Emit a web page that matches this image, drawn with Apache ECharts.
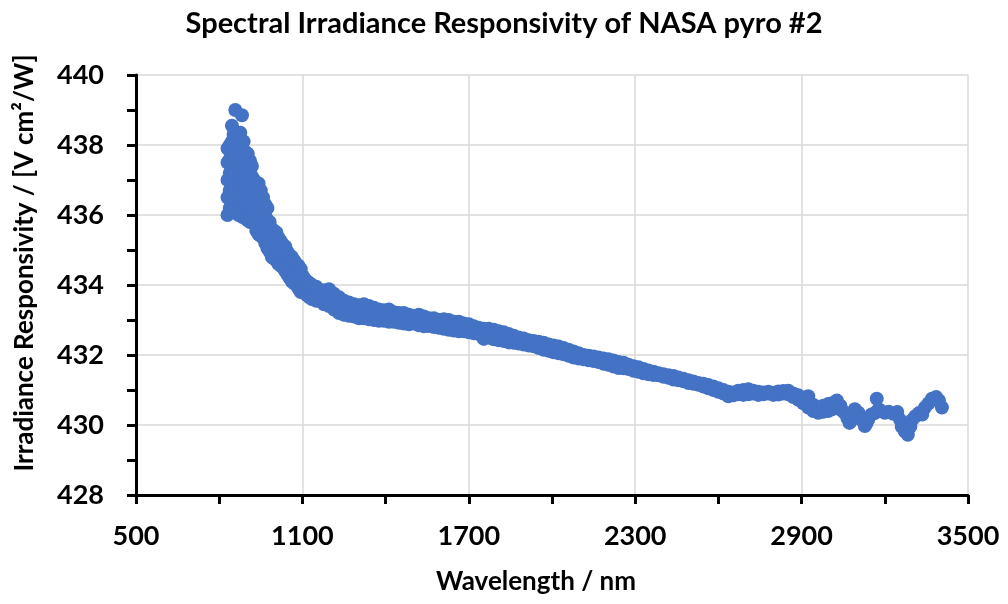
<!DOCTYPE html>
<html>
<head>
<meta charset="utf-8">
<script src="https://cdn.jsdelivr.net/npm/echarts@6/dist/echarts.min.js"></script>
<style>
  html, body { margin: 0; padding: 0; background: #fff; }
  #chart { width: 1008px; height: 604px; }
</style>
</head>
<body>
<div id="chart"></div>
<script>
// wavelength (nm) followed by the responsivities read at that wavelength
const steepRows = [
  [830, 436.0, 436.5, 437.0, 437.5, 437.9],
  [838, 436.2, 436.7, 437.2, 437.6, 438.0],
  [846, 436.1, 436.6, 437.1, 437.6, 438.1, 438.55],
  [852, 436.3, 436.8, 437.3, 437.8, 438.3],
  [858, 436.2, 436.7, 437.2, 437.7, 439.0],
  [864, 436.1, 436.6, 437.1, 437.5, 437.9],
  [870, 436.0, 436.5, 437.0, 437.5, 437.8],
  [876, 436.1, 436.6, 437.1, 437.6, 438.35],
  [882, 435.95, 436.5, 437.0, 437.5, 438.85],
  [888, 436.0, 436.5, 437.0, 437.5, 438.1],
  [895, 435.9, 436.4, 436.9, 437.4, 437.8],
  [903, 435.85, 436.3, 436.8, 437.3, 437.75],
  [911, 435.8, 436.25, 436.7, 437.2, 437.55],
  [918, 435.8, 436.2, 436.65, 437.1, 437.4],
  [926, 435.75, 436.15, 436.6, 437.0],
  [934, 435.55, 436.0, 436.4, 436.9],
  [942, 435.45, 435.9, 436.3, 436.9],
  [950, 435.4, 435.8, 436.2, 436.7],
  [958, 435.35, 435.75, 436.1, 436.5],
  [966, 435.2, 435.6, 436.0, 436.3],
  [974, 435.05, 435.45, 435.85, 436.2],
  [982, 434.95, 435.35, 435.8],
  [990, 434.8, 435.2, 435.6],
  [998, 434.75, 435.1, 435.55],
  [1006, 434.7, 435.05, 435.5],
  [1014, 434.6, 434.95, 435.35],
  [1022, 434.55, 434.9, 435.25],
  [1030, 434.5, 434.8, 435.15],
  [1038, 434.4, 434.75, 435.1],
  [1046, 434.3, 434.65, 434.95],
  [1054, 434.2, 434.5, 434.85],
  [1062, 434.1, 434.45, 434.8],
  [1070, 434.05, 434.35, 434.7],
  [1078, 434.0, 434.3, 434.6],
  [1086, 433.9, 434.2, 434.55],
  [1094, 433.8, 434.1, 434.45],
  [1102, 433.8, 434.0, 434.25],
  [1110, 433.75, 433.95, 434.15],
  [1118, 433.7, 433.9, 434.1],
  [1126, 433.65, 433.85, 434.05],
  [1134, 433.6, 433.8, 434.0],
  [1142, 433.6, 433.75, 433.95],
  [1150, 433.55, 433.7, 433.95]
];

const kneeRows = [
  [1160, 433.55, 433.7, 433.85], [1178, 433.45, 433.65, 433.85], [1196, 433.4, 433.6, 433.88],
  [1214, 433.3, 433.5, 433.75], [1232, 433.2, 433.45, 433.65], [1250, 433.15, 433.35, 433.55],
  [1268, 433.12, 433.3, 433.5], [1286, 433.1, 433.28, 433.45], [1304, 433.05, 433.25, 433.42],
  [1322, 433.05, 433.25, 433.45], [1340, 433.02, 433.2, 433.4], [1358, 433.0, 433.35],
  [1376, 432.98, 433.3], [1394, 432.98, 433.28], [1412, 432.95, 433.3],
  [1430, 432.95, 433.22], [1448, 432.92, 433.2], [1466, 432.9, 433.2],
  [1484, 432.88, 433.15], [1502, 432.9, 433.12], [1520, 432.85, 433.15],
  [1538, 432.82, 433.1], [1556, 432.83, 433.05], [1574, 432.8, 433.05],
  [1592, 432.78, 433.0], [1610, 432.75, 433.02], [1628, 432.72, 433.0],
  [1646, 432.7, 432.95], [1664, 432.68, 432.95], [1682, 432.68, 432.9],
  [1700, 432.65, 432.88], [1718, 432.62, 432.82], [1736, 432.6, 432.78]
];

const midRows = [
  [1754, 432.46, 432.75], [1772, 432.5, 432.75], [1790, 432.45, 432.72],
  [1808, 432.42, 432.68], [1826, 432.4, 432.65], [1844, 432.36, 432.6],
  [1862, 432.35, 432.55], [1880, 432.33, 432.5], [1898, 432.3, 432.47],
  [1916, 432.27, 432.42], [1934, 432.25, 432.4], [1952, 432.2, 432.38],
  [1970, 432.15, 432.35], [1988, 432.12, 432.3], [2006, 432.08, 432.27],
  [2024, 432.05, 432.24], [2042, 432.02, 432.2], [2060, 431.98, 432.15],
  [2078, 431.93, 432.1], [2096, 431.9, 432.05], [2114, 431.88, 432.0],
  [2132, 431.85, 431.98], [2150, 431.83, 431.96], [2168, 431.8, 431.93],
  [2186, 431.75, 431.9], [2204, 431.72, 431.88], [2222, 431.67, 431.84],
  [2240, 431.63, 431.8], [2258, 431.62, 431.78], [2276, 431.6, 431.72],
  [2294, 431.55, 431.68], [2312, 431.52, 431.65], [2330, 431.48, 431.6],
  [2348, 431.45, 431.56], [2366, 431.43, 431.52], [2384, 431.42, 431.48],
  [2402, 431.38, 431.45], [2420, 431.35, 431.42]
];

const flatRows = [
  [2438, 431.3, 431.4], [2456, 431.28, 431.36], [2474, 431.25, 431.32],
  [2492, 431.2, 431.28], [2510, 431.18, 431.24], [2528, 431.15, 431.2],
  [2546, 431.1, 431.18], [2564, 431.05, 431.14], [2582, 431.0, 431.1],
  [2600, 430.95, 431.05], [2618, 430.9, 431.0], [2636, 430.82, 430.95],
  [2654, 430.85, 430.93], [2672, 430.88, 430.98], [2690, 430.86, 431.0],
  [2708, 430.88, 431.02], [2726, 430.9, 430.98], [2744, 430.86, 430.95],
  [2762, 430.88, 430.93], [2780, 430.9, 430.95], [2798, 430.86, 430.92],
  [2816, 430.87, 430.96], [2834, 430.9, 430.97], [2852, 430.88, 430.98],
  [2870, 430.8, 430.9], [2888, 430.72, 430.85], [2906, 430.62, 430.75],
  [2924, 430.5, 430.82], [2942, 430.4, 430.58], [2960, 430.35, 430.5],
  [2978, 430.38, 430.55], [2996, 430.4, 430.6]
];

const tailRows = [
  [3010, 430.45, 430.62], [3020, 430.55], [3027, 430.7], [3040, 430.55, 430.45],
  [3048, 430.4], [3055, 430.35], [3065, 430.2], [3073, 430.06], [3080, 430.2],
  [3085, 430.3], [3092, 430.45], [3105, 430.35], [3115, 430.15], [3128, 429.97],
  [3134, 430.05], [3140, 430.15], [3152, 430.3], [3164, 430.34], [3171, 430.75],
  [3178, 430.45], [3185, 430.4], [3200, 430.35], [3214, 430.38], [3230, 430.32],
  [3245, 430.37], [3255, 430.15], [3261, 429.95], [3272, 429.82],
  [3283, 429.72], [3292, 429.95], [3298, 430.14], [3310, 430.25],
  [3323, 430.34], [3335, 430.3], [3345, 430.5], [3358, 430.62],
  [3370, 430.75], [3385, 430.8], [3395, 430.7], [3406, 430.5]
];

const xTicks = [500, 3500, 600];
const yTicks = [428, 440, 2];

const toPoints = rows => rows.flatMap(([w, ...vs]) => vs.map(v => [w, v]));
const points = [steepRows, kneeRows, midRows, flatRows, tailRows].flatMap(toPoints);

const font = 'Lato, "Open Sans", sans-serif';
const chart = echarts.init(document.getElementById('chart'));

const axisCommon = {
  axisLine: { lineStyle: { color: '#000', width: 3 } },
  axisTick: { show: true, inside: false, length: 9, lineStyle: { color: '#000', width: 3 } },
  minorTick: { show: true, splitNumber: 2, length: 9, lineStyle: { color: '#000', width: 3 } },
  splitLine: { show: true, lineStyle: { color: '#d9d9d9', width: 1.5 } },
  axisLabel: { color: '#000', fontFamily: font, fontWeight: 'bold', fontSize: 27, formatter: v => String(v) },
  nameTextStyle: { color: '#000', fontFamily: font, fontWeight: 'bold', fontSize: 26 }
};

chart.setOption({
  animation: false,
  title: {
    text: 'Spectral Irradiance Responsivity of NASA pyro #2',
    left: 'center',
    top: 4,
    textStyle: { color: '#000', fontFamily: font, fontWeight: 'bold', fontSize: 29 }
  },
  grid: { left: 136, right: 40, top: 75, bottom: 109 },
  xAxis: Object.assign({}, axisCommon, {
    type: 'value',
    min: xTicks[0], max: xTicks[1], interval: xTicks[2],
    name: 'Wavelength / nm',
    nameLocation: 'middle',
    nameGap: 74,
    nameTextStyle: Object.assign({}, axisCommon.nameTextStyle, { padding: [0, 32, 0, 0] }),
    axisLabel: Object.assign({}, axisCommon.axisLabel, { margin: 28 })
  }),
  yAxis: Object.assign({}, axisCommon, {
    type: 'value',
    min: yTicks[0], max: yTicks[1], interval: yTicks[2],
    name: 'Irradiance Responsivity / [V cm²/W]',
    nameLocation: 'middle',
    nameGap: 98,
    nameTextStyle: Object.assign({}, axisCommon.nameTextStyle, { padding: [0, 0, 0, 44] }),
    axisLabel: Object.assign({}, axisCommon.axisLabel, { margin: 32 })
  }),
  series: [{
    type: 'scatter',
    data: points,
    symbol: 'circle',
    symbolSize: 14,
    itemStyle: { color: '#4472c4', opacity: 1 }
  }]
});

window.addEventListener('resize', () => {
  chart.resize();
});
</script>
</body>
</html>
